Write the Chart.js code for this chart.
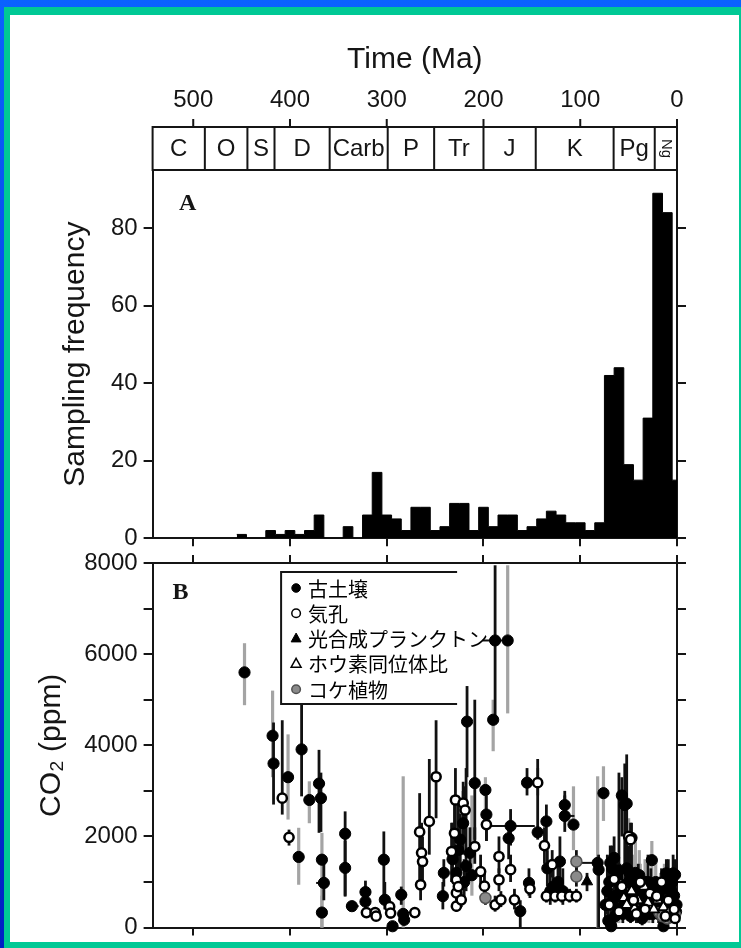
<!DOCTYPE html>
<html lang="ja">
<head>
    <meta charset="UTF-8">
    <meta name="viewport" content="width=device-width, initial-scale=1.0">
    <title>Sampling frequency / CO2 (ppm)</title>
    <style>
        html, body { margin: 0; padding: 0; }
        body {
            width: 741px;
            height: 948px;
            position: relative;
            overflow: hidden;
            background: linear-gradient(to bottom, #0a62ff, #0020c4);
        }
        #frame { position: absolute; left: 4px; top: 7px; width: 737px; height: 941px; background: #00c995; }
        #paper { position: absolute; left: 10px; top: 15px; width: 729px; height: 927px; background: #fff; }
        canvas { position: absolute; left: 0; }
        #chartA { top: 0; }
        #chartB { top: 540px; }
    </style>
    <script src="https://cdn.jsdelivr.net/npm/chart.js"></script>
</head>
<body>
    <div id="frame"></div>
    <div id="paper"></div>
    <canvas id="chartA" width="741" height="560"></canvas>
    <canvas id="chartB" width="741" height="408"></canvas>

    <script>
        // ---- data ----
        const timeTicks = [500, 400, 300, 200, 100, 0];
        const freqTicks = [0, 20, 40, 60, 80];
        const co2Ticks = [0, 1000, 2000, 3000, 4000, 5000, 6000, 7000, 8000];

        const periodNames = ['C', 'O', 'S', 'D', 'Carb', 'P', 'Tr', 'J', 'K', 'Pg', 'Ng'];
        const periodBounds = [542, 488, 444, 416, 359, 299, 251, 200, 146, 65.5, 23, 0];

        // histogram: older edge of each 10 Ma bin, and its count
        const binOld = [455, 445, 435, 425, 415, 405, 395, 385, 375, 365,
                        355, 345, 335, 325, 315, 305, 295, 285, 275, 265,
                        255, 245, 235, 225, 215, 205, 195, 185, 175, 165,
                        155, 145, 135, 125, 115, 105, 95, 85, 75, 65,
                        55, 45, 35, 25, 15, 5];
        const binCount = [1, 0, 0, 2, 1, 2, 1, 2, 6, 0,
                          0, 3, 0, 6, 17, 6, 5, 2, 8, 8,
                          2, 3, 9, 9, 2, 8, 3, 6, 6, 2,
                          3, 5, 7, 6, 4, 4, 2, 4, 42, 44,
                          19, 15, 31, 89, 84, 15];

        // [age Ma, CO2 ppm, low, high, grey bar (1) or black (0), age old, age young]
        const paleosol = [
            [447, 5600, 4880, 6240, 1], [418, 4210, 3300, 5200, 1], [417, 3600, 2700, 4500, 0],
            [402, 3300, 2370, 4240, 1], [388, 3910, 2880, 5000, 0], [391, 1550, 940, 2190, 1],
            [380, 2800, 2290, 3210, 1], [370, 3160, 2080, 3900, 0, 373, 364],
            [368, 2840, 2100, 3400, 0, 373, 363], [367, 1490, 0, 2080, 1, 372, 364],
            [365, 980, 600, 1500, 0, 373, 364], [367, 330, 0, 700, 1, 372, 363],
            [343, 2060, 680, 2550, 0], [343, 1310, 700, 1900, 0], [336, 470, 400, 540, 0, 342, 329],
            [322, 780, 560, 1030, 0], [322, 570, 420, 700, 0], [303, 1490, 680, 2110, 0],
            [302, 610, 400, 1000, 0], [294, 30, 0, 100, 0], [285, 720, 500, 900, 0, 290, 279],
            [283, 300, 0, 3320, 1], [282, 170, 50, 300, 0], [241, 1200, 900, 1500, 0, 246, 236],
            [242, 690, 400, 1000, 0], [232, 1500, 1000, 2300, 0], [228, 1200, 700, 1800, 0],
            [226, 1700, 1100, 2700, 0], [224, 1930, 1200, 2500, 0], [221, 2290, 1600, 3000, 0],
            [220, 1000, 600, 1500, 0], [218, 1350, 800, 3500, 0], [217, 4520, 3300, 5300, 0],
            [214, 1640, 1100, 2200, 0], [212, 1150, 700, 2900, 1], [209, 3170, 1930, 5000, 0],
            [198, 3020, 2300, 3300, 1], [197, 2480, 1900, 2900, 0], [190, 4560, 3870, 5000, 1],
            [188, 6300, 4560, 7950, 0, 201, 180], [175, 6300, 4700, 7950, 1],
            [174, 1960, 1500, 2300, 0], [172, 2230, 1800, 2600, 0, 198, 147],
            [162, 360, 0, 600, 0], [155, 3180, 2900, 3500, 0], [153, 980, 700, 1300, 0],
            [144, 2090, 1930, 3700, 0], [135, 2330, 1900, 2700, 0], [134, 1300, 900, 1700, 0],
            [131, 800, 500, 1200, 0], [128, 900, 600, 1300, 0], [123, 1000, 700, 1400, 0],
            [121, 1450, 1000, 2000, 0], [118, 800, 500, 1300, 0],
            [116, 2690, 2400, 3000, 0, 121, 111], [116, 2450, 2100, 2900, 0, 119, 106],
            [107, 2260, 1700, 3100, 1], [82, 1420, 0, 3320, 1, 100, 82], [81, 1270, 0, 1600, 0],
            [76, 2950, 2340, 3540, 1], [74, 500, 100, 900, 0], [72, 800, 300, 1600, 0],
            [71, 150, 0, 400, 0], [70, 1000, 600, 1400, 0], [69, 1420, 900, 1800, 0],
            [68, 30, 0, 500, 0], [67, 1300, 900, 1800, 0], [66, 600, 200, 1100, 1],
            [65, 1530, 1200, 2000, 0], [64, 250, 0, 700, 0], [63, 700, 300, 1200, 0],
            [62, 1100, 600, 1500, 0], [61, 400, 100, 900, 1], [60, 1250, 800, 3400, 0],
            [59, 950, 600, 1400, 0], [58, 800, 400, 1200, 0], [57, 2900, 2000, 3300, 0],
            [56, 300, 100, 600, 0], [55, 500, 200, 900, 0], [54, 2690, 1000, 3600, 0],
            [53, 700, 400, 1100, 0], [52, 1300, 900, 2000, 0], [52, 2720, 1850, 3800, 0],
            [51, 450, 200, 800, 1], [50, 1000, 500, 1800, 0], [49, 1200, 800, 1700, 0],
            [48, 250, 100, 500, 0], [47, 1970, 1200, 2300, 0], [46, 1100, 700, 1600, 1],
            [45, 700, 300, 1300, 1], [44, 850, 500, 1300, 0], [43, 1200, 800, 2000, 1],
            [41, 350, 100, 700, 0], [40, 900, 500, 1400, 0], [39, 1150, 700, 1700, 1],
            [37, 750, 400, 1100, 0], [36, 200, 50, 400, 0], [35, 600, 300, 1000, 1],
            [33, 1000, 500, 1500, 1], [31, 650, 400, 1000, 0], [30, 1000, 600, 1600, 0],
            [29, 300, 100, 600, 1], [27, 850, 500, 1300, 0], [26, 1480, 800, 1900, 1],
            [25, 300, 100, 700, 0], [23, 700, 400, 1100, 1], [22, 1000, 600, 1500, 1],
            [20, 500, 250, 900, 0], [19, 300, 100, 600, 0], [17, 800, 500, 1200, 1],
            [15, 600, 300, 900, 0], [14, 30, 0, 300, 0], [13, 900, 600, 1400, 1],
            [11, 1190, 600, 1500, 0], [10, 400, 200, 700, 0], [9, 1160, 800, 1500, 0],
            [8, 600, 300, 900, 0], [7, 300, 150, 500, 0], [6, 800, 400, 1200, 0],
            [5, 1000, 700, 1300, 0], [4, 1190, 700, 1600, 0], [3, 700, 400, 1000, 1],
            [2, 1160, 800, 1500, 0], [1, 350, 200, 600, 0], [0.5, 500, 300, 800, 0]
        ];
        const stomata = [
            [408, 2840, 2480, 4550, 0], [401, 1980, 1800, 2150, 0], [321, 330, 250, 420, 0],
            [312, 330, 250, 420, 0], [311, 250, 150, 350, 0], [297, 460, 300, 600, 0],
            [296, 320, 200, 450, 0], [271, 330, 250, 400, 0], [266, 2100, 1000, 2950, 0],
            [265, 940, 600, 1500, 0], [264, 1640, 1000, 2300, 0], [263, 1450, 900, 2000, 0],
            [256, 2330, 1600, 3700, 0], [249, 3310, 2400, 4550, 0], [233, 1670, 1000, 2300, 0],
            [230, 2070, 1500, 2800, 0], [229, 2800, 2000, 3500, 0], [228, 1050, 800, 1300, 0],
            [228, 760, 600, 950, 0], [228, 470, 350, 600, 0], [226, 900, 700, 1100, 0],
            [223, 610, 450, 800, 0], [221, 2730, 2200, 3200, 0], [219, 2580, 2000, 3100, 0],
            [209, 1780, 1400, 2200, 0], [203, 1230, 900, 1600, 0], [199, 910, 700, 1200, 0],
            [197, 2260, 1900, 2600, 0], [188, 500, 350, 700, 0], [184, 1560, 1200, 2000, 0],
            [184, 1050, 800, 1300, 0], [182, 610, 450, 800, 0], [172, 1270, 1000, 1600, 0],
            [168, 610, 400, 850, 0], [152, 850, 650, 1100, 0], [144, 3180, 2900, 3500, 1],
            [137, 1800, 1400, 2200, 0], [135, 690, 550, 850, 0], [129, 1380, 1100, 1700, 0],
            [126, 690, 550, 850, 0], [119, 690, 550, 850, 0], [111, 690, 550, 850, 0],
            [104, 690, 550, 850, 0], [70, 500, 200, 900, 1], [65, 1060, 700, 1500, 0],
            [60, 350, 100, 700, 1], [57, 900, 600, 1300, 0], [50, 2000, 1700, 2400, 1],
            [48, 1930, 1500, 2300, 0], [45, 600, 300, 900, 1], [42, 300, 100, 600, 0],
            [38, 1000, 700, 1400, 1], [33, 400, 200, 700, 0], [28, 750, 500, 1100, 1],
            [21, 690, 400, 1000, 1], [16, 1000, 700, 1300, 0], [12, 250, 150, 400, 0],
            [9, 600, 400, 900, 1], [3, 400, 250, 600, 0], [2, 200, 100, 300, 0]
        ];
        const phyto = [
            [93, 1010, 800, 1200, 0], [42, 800, 600, 1000, 0], [36, 450, 350, 600, 0],
            [31, 350, 250, 450, 0], [18, 420, 300, 550, 0], [12, 300, 250, 380, 0], [6, 280, 220, 350, 0]
        ];
        const boron = [
            [58, 950, 700, 1200, 1], [55, 650, 450, 900, 1], [52, 500, 300, 700, 0],
            [47, 800, 600, 1000, 1], [44, 420, 300, 600, 0], [40, 600, 400, 800, 1],
            [34, 900, 700, 1100, 1], [30, 550, 350, 700, 0], [24, 400, 250, 550, 1],
            [20, 600, 400, 800, 0], [14, 450, 300, 600, 1], [8, 350, 250, 500, 0], [3, 300, 250, 400, 1]
        ];
        const liverwort = [
            [198, 650, 500, 800, 0], [104, 1450, 1200, 1700, 0], [104, 1120, 900, 1350, 0],
            [18, 320, 200, 450, 1], [15, 250, 150, 350, 1], [10, 200, 120, 300, 1],
            [6, 230, 150, 320, 1], [2, 280, 200, 380, 1]
        ];
        const legendLabels = ['古土壌', '気孔', '光合成プランクトン', 'ホウ素同位体比', 'コケ植物'];

        // ---- shared settings ----
        const AGE_MAX = 542;
        const FONT = '"Liberation Sans", Arial, Helvetica, sans-serif';
        const INK = '#151515';

        const fixedTicks = values => scale => { scale.ticks = values.map(v => ({ value: v })); };
        const axisLine = { display: true, color: INK, width: 2 };
        const outTicks = { drawOnChartArea: false, drawTicks: true, tickLength: 8, color: INK, lineWidth: 2 };

        function timeAxis(position, height) {
            return {
                type: 'linear', position, min: 0, max: AGE_MAX, reverse: true,
                afterBuildTicks: fixedTicks(timeTicks),
                grid: outTicks, border: axisLine,
                ticks: { callback: () => '', padding: 0, autoSkip: false, maxRotation: 0 },
                afterFit: s => { s.height = height; }
            };
        }
        function valueAxis(position, max, values, width, labelled, title, titlePad) {
            return {
                type: 'linear', position, min: 0, max,
                afterBuildTicks: fixedTicks(values),
                grid: Object.assign({}, outTicks, { tickLength: 9 }), border: axisLine,
                ticks: {
                    autoSkip: false, padding: 6, color: INK, font: { family: FONT, size: 24 },
                    callback: labelled
                },
                title: title ? { display: true, text: title, color: INK, font: { family: FONT, size: 30 },
                                 padding: { top: titlePad, bottom: 0 } } : { display: false },
                afterFit: s => { s.width = width; }
            };
        }

        // ---- panel A: histogram ----
        const histPoints = binOld.map((x, i) => ({ x, y: binCount[i] }));
        histPoints.push({ x: 0, y: binCount[binCount.length - 1] });

        const periodBox = {
            id: 'periodBox',
            afterDraw(chart) {
                const { ctx, chartArea } = chart;
                const xs = chart.scales.x;
                const top = 127, bottom = chartArea.top;
                ctx.save();
                ctx.strokeStyle = INK;
                ctx.lineWidth = 2;
                ctx.strokeRect(chartArea.left, top, chartArea.right - chartArea.left, bottom - top);
                ctx.beginPath();
                periodBounds.slice(1, -1).forEach(v => {
                    const px = xs.getPixelForValue(v);
                    ctx.moveTo(px, top);
                    ctx.lineTo(px, bottom);
                });
                timeTicks.forEach(v => {
                    const px = xs.getPixelForValue(v);
                    ctx.moveTo(px, top - 8);
                    ctx.lineTo(px, top);
                });
                ctx.stroke();

                ctx.fillStyle = INK;
                ctx.textAlign = 'center';
                ctx.textBaseline = 'middle';
                periodNames.forEach((name, i) => {
                    const mid = (xs.getPixelForValue(periodBounds[i]) + xs.getPixelForValue(periodBounds[i + 1])) / 2;
                    if (name === 'Ng') {
                        ctx.save();
                        ctx.translate(mid, (top + bottom) / 2);
                        ctx.rotate(Math.PI / 2);
                        ctx.font = '15px ' + FONT;
                        ctx.fillText(name, 0, 0);
                        ctx.restore();
                    } else {
                        ctx.font = '24px ' + FONT;
                        ctx.fillText(name, mid, (top + bottom) / 2 + 1);
                    }
                });

                ctx.font = 'bold 24px "Liberation Serif", "Times New Roman", serif';
                ctx.fillText('A', chartArea.left + 35, chartArea.top + 34);
                ctx.restore();
            }
        };

        new Chart(document.getElementById('chartA'), {
            type: 'line',
            data: {
                datasets: [{
                    data: histPoints,
                    stepped: 'before',
                    fill: 'origin',
                    backgroundColor: '#000',
                    borderColor: '#000',
                    borderWidth: 1,
                    pointRadius: 0
                }]
            },
            options: {
                responsive: false,
                animation: false,
                devicePixelRatio: 1,
                layout: { padding: 0 },
                plugins: { legend: { display: false }, tooltip: { enabled: false } },
                scales: {
                    x: timeAxis('bottom', 21.7),
                    xTop: {
                        type: 'linear', position: 'top', min: 0, max: AGE_MAX, reverse: true,
                        afterBuildTicks: fixedTicks(timeTicks),
                        grid: { display: false, drawTicks: false },
                        border: { display: false },
                        ticks: { autoSkip: false, maxRotation: 0, padding: 55.6, color: INK,
                                 font: { family: FONT, size: 24 }, callback: v => String(v) },
                        title: { display: true, text: 'Time (Ma)', color: INK,
                                 font: { family: FONT, size: 30 }, padding: { top: 42, bottom: 0 } },
                        afterFit: s => { s.height = 170; }
                    },
                    y: valueAxis('left', 95, freqTicks, 152.6, v => String(v), 'Sampling frequency', 58),
                    yR: valueAxis('right', 95, freqTicks, 64, () => '', null, 0)
                }
            },
            plugins: [periodBox]
        });

        // ---- panel B: CO2 proxies ----
        const seriesList = [
            { rows: stomata, order: 1, pointStyle: 'circle', radius: 4.6, backgroundColor: '#fff', borderColor: '#000', borderWidth: 2.5 },
            { rows: boron, order: 2, pointStyle: 'triangle', radius: 6, backgroundColor: '#fff', borderColor: '#000', borderWidth: 1.8 },
            { rows: liverwort, order: 3, pointStyle: 'circle', radius: 5.5, backgroundColor: '#8a8a8a', borderColor: '#505050', borderWidth: 1.5 },
            { rows: phyto, order: 4, pointStyle: 'triangle', radius: 6.5, backgroundColor: '#000', borderColor: '#000', borderWidth: 1 },
            { rows: paleosol, order: 5, pointStyle: 'circle', radius: 5.6, backgroundColor: '#000', borderColor: '#000', borderWidth: 1 }
        ];
        // legend order: paleosol, stomata, phyto, boron, liverwort
        const legendStyles = [seriesList[4], seriesList[0], seriesList[3], seriesList[1], seriesList[2]];

        const errorBars = {
            id: 'errorBars',
            beforeDatasetsDraw(chart) {
                const { ctx } = chart;
                const xs = chart.scales.x, ys = chart.scales.y;
                ctx.save();
                [1, 0].forEach(tone => {
                    chart.data.datasets.forEach(ds => {
                        ds.rows.forEach(r => {
                            if (r[4] !== tone) return;
                            const px = xs.getPixelForValue(r[0]);
                            ctx.strokeStyle = tone ? '#a4a4a4' : '#111';
                            ctx.lineWidth = tone ? 3.2 : 2.8;
                            ctx.beginPath();
                            ctx.moveTo(px, ys.getPixelForValue(r[2]));
                            ctx.lineTo(px, ys.getPixelForValue(r[3]));
                            ctx.stroke();
                            if (r.length > 5) {
                                const py = ys.getPixelForValue(r[1]);
                                ctx.strokeStyle = '#111';
                                ctx.lineWidth = 2;
                                ctx.beginPath();
                                ctx.moveTo(xs.getPixelForValue(r[5]), py);
                                ctx.lineTo(xs.getPixelForValue(r[6]), py);
                                ctx.stroke();
                            }
                        });
                    });
                });
                ctx.restore();
            }
        };

        function drawMarker(ctx, st, x, y, r) {
            ctx.beginPath();
            if (st.pointStyle === 'triangle') {
                ctx.moveTo(x, y - r);
                ctx.lineTo(x + r * 0.9, y + r * 0.6);
                ctx.lineTo(x - r * 0.9, y + r * 0.6);
                ctx.closePath();
            } else {
                ctx.arc(x, y, r, 0, Math.PI * 2);
            }
            ctx.fillStyle = st.backgroundColor;
            ctx.fill();
            ctx.lineWidth = Math.min(st.borderWidth, 1.5);
            ctx.strokeStyle = st.borderColor;
            ctx.stroke();
        }

        const legendBox = {
            id: 'legendBox',
            afterDatasetsDraw(chart) {
                const { ctx, chartArea } = chart;
                const left = chartArea.left + 128.5, top = chartArea.top + 9;
                const right = left + 176, bottom = top + 132;
                ctx.save();
                ctx.fillStyle = '#fff';
                ctx.fillRect(left, top, right - left, bottom - top);
                ctx.strokeStyle = INK;
                ctx.lineWidth = 2;
                ctx.beginPath();
                ctx.moveTo(right, top);
                ctx.lineTo(left, top);
                ctx.lineTo(left, bottom);
                ctx.lineTo(right, bottom);
                ctx.stroke();

                ctx.font = '20px "Noto Sans CJK JP", sans-serif';
                ctx.textBaseline = 'middle';
                legendLabels.forEach((label, i) => {
                    const cy = top + 16 + i * 25.3;
                    drawMarker(ctx, legendStyles[i], left + 15, cy, legendStyles[i].pointStyle === 'triangle' ? 5.5 : 4.3);
                    ctx.fillStyle = '#000';
                    ctx.fillText(label, left + 27, cy + 1);
                });

                ctx.fillStyle = INK;
                ctx.textAlign = 'center';
                ctx.font = 'bold 24px "Liberation Serif", "Times New Roman", serif';
                ctx.fillText('B', chartArea.left + 28, chartArea.top + 30);
                ctx.restore();
            }
        };

        new Chart(document.getElementById('chartB'), {
            type: 'scatter',
            data: {
                datasets: seriesList.map(s => ({
                    rows: s.rows,
                    data: s.rows.map(r => ({ x: r[0], y: r[1] })),
                    order: s.order,
                    pointStyle: s.pointStyle,
                    pointRadius: s.radius,
                    pointBackgroundColor: s.backgroundColor,
                    pointBorderColor: s.borderColor,
                    pointBorderWidth: s.borderWidth,
                    clip: false
                }))
            },
            options: {
                responsive: false,
                animation: false,
                devicePixelRatio: 1,
                layout: { padding: 0 },
                plugins: { legend: { display: false }, tooltip: { enabled: false } },
                scales: {
                    x: timeAxis('bottom', 20),
                    xTop: timeAxis('top', 23),
                    y: valueAxis('left', 8000, co2Ticks, 152.6, v => (v % 2000 === 0 ? String(v) : ''), 'CO₂ (ppm)', 34),
                    yR: valueAxis('right', 8000, co2Ticks, 64, () => '', null, 0)
                }
            },
            plugins: [errorBars, legendBox]
        });
    </script>
</body>
</html>
